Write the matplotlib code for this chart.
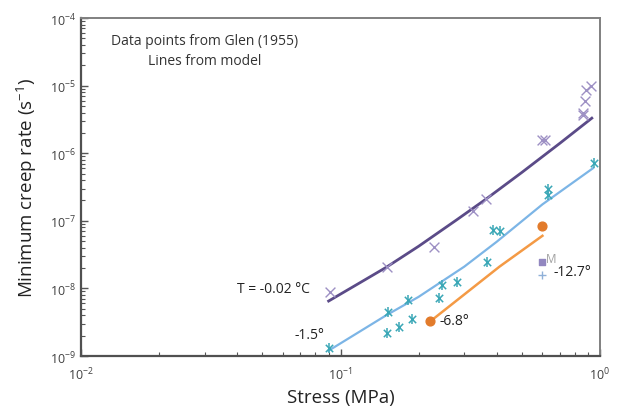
import matplotlib
matplotlib.use("Agg")
import matplotlib.pyplot as plt
from matplotlib.ticker import FixedLocator, NullFormatter, LogFormatterSciNotation

plt.rcParams['font.family'] = ['Open Sans', 'DejaVu Sans']
plt.rcParams['mathtext.default'] = 'regular'

# ---- data ----
# Glen (1955) data, T = -0.02 C
stress_002 = [0.091, 0.151, 0.229, 0.325, 0.364, 0.600, 0.612, 0.859, 0.862, 0.875, 0.885, 0.924]
rate_002 = [8.8e-9, 2.1e-8, 4.1e-8, 1.4e-7, 2.1e-7, 1.55e-6, 1.55e-6, 3.7e-6, 3.9e-6, 5.9e-6, 8.6e-6, 9.9e-6]
# Glen (1955) data, T = -1.5 C
stress_15 = [0.0903, 0.152, 0.151, 0.168, 0.182, 0.189, 0.240, 0.246, 0.281, 0.367, 0.387, 0.412, 0.631, 0.631, 0.948]
rate_15 = [1.3e-9, 4.5e-9, 2.2e-9, 2.7e-9, 6.7e-9, 3.5e-9, 7.2e-9, 1.12e-8, 1.24e-8, 2.46e-8, 7.3e-8, 7.1e-8, 2.95e-7, 2.41e-7, 7.2e-7]
# Glen (1955) data, T = -6.8 C
stress_68 = [0.221, 0.598]
rate_68 = [3.3e-9, 8.4e-8]
# Point M and T = -12.7 C
stress_M = [0.598]
rate_M = [2.46e-8]
stress_127 = [0.598]
rate_127 = [1.58e-8]

# model lines
line_x_002 = [0.09, 0.12, 0.15, 0.2, 0.28, 0.364, 0.5, 0.7, 0.93]
line_y_002 = [6.5e-9, 1.24e-8, 2.05e-8, 4.2e-8, 1.03e-7, 2.1e-7, 5.2e-7, 1.4e-6, 3.3e-6]
line_x_15 = [0.09, 0.15, 0.2, 0.3, 0.4, 0.6, 0.94]
line_y_15 = [1.2e-9, 4.0e-9, 7.5e-9, 2.1e-8, 4.9e-8, 1.75e-7, 6.0e-7]
line_x_68 = [0.225, 0.41, 0.6]
line_y_68 = [3.4e-9, 2.1e-8, 6.0e-8]

# axis ticks
x_major = [1e-2, 1e-1, 1e0]
y_major = [1e-9, 1e-8, 1e-7, 1e-6, 1e-5, 1e-4]

# ---- figure ----
fig = plt.figure(figsize=(6.23, 4.10), dpi=100)
ax = fig.add_axes([81/623, 1-357/410, (600-81)/623, (357-19)/410])

c_purple_line = '#5b4b88'
c_purple_pts = '#9d90c4'
c_blue_line = '#7cb5e6'
c_cyan_pts = '#3aa7b6'
c_orange_line = '#f49a45'
c_orange_pts = '#e27b2b'

ax.plot(line_x_002, line_y_002, color=c_purple_line, lw=2.0, zorder=2)
ax.plot(line_x_15, line_y_15, color=c_blue_line, lw=1.6, zorder=2)
ax.plot(line_x_68, line_y_68, color=c_orange_line, lw=1.8, zorder=2)

ax.scatter(stress_002, rate_002, marker='x', s=50, linewidths=1.0, color=c_purple_pts, zorder=3)
ax.scatter(stress_15, rate_15, marker='x', s=28, linewidths=1.1, color=c_cyan_pts, zorder=3)
ax.scatter(stress_15, rate_15, marker='|', s=55, linewidths=1.1, color=c_cyan_pts, zorder=3)
ax.scatter(stress_68, rate_68, marker='o', s=40, color=c_orange_pts, zorder=3)
ax.scatter(stress_M, rate_M, marker='s', s=18, color='#9287c0', zorder=3)
ax.scatter(stress_127, rate_127, marker='+', s=40, linewidths=1.0, color='#8fb0d8', zorder=3)

ax.set_xscale('log')
ax.set_yscale('log')
ax.set_xlim(1e-2, 1)
ax.set_ylim(1e-9, 1e-4)

x_minor = [m * d for d in x_major[:-1] for m in range(2, 10)]
y_minor = [m * d for d in y_major[:-1] for m in range(2, 10)]
ax.xaxis.set_major_locator(FixedLocator(x_major))
ax.yaxis.set_major_locator(FixedLocator(y_major))
ax.xaxis.set_minor_locator(FixedLocator(x_minor))
ax.yaxis.set_minor_locator(FixedLocator(y_minor))
ax.xaxis.set_major_formatter(LogFormatterSciNotation())
ax.yaxis.set_major_formatter(LogFormatterSciNotation())
ax.xaxis.set_minor_formatter(NullFormatter())
ax.yaxis.set_minor_formatter(NullFormatter())

ax.tick_params(which='both', direction='in', top=False, right=False, colors='#555555',
               labelcolor='#404040', labelsize=9)
ax.tick_params(which='major', length=5, width=1.0)
ax.tick_params(which='minor', length=3, width=0.8)
ax.tick_params(axis='x', pad=7)

for s in ['left', 'bottom']:
    ax.spines[s].set_color('#505050')
    ax.spines[s].set_linewidth(1.6)
for s in ['top', 'right']:
    ax.spines[s].set_color('#808080')
    ax.spines[s].set_linewidth(1.4)

ax.set_xlabel('Stress (MPa)', fontsize=13.5, color='#222222', labelpad=4)
ax.set_ylabel('Minimum creep rate (s$^{-1}$)', fontsize=13.5, color='#222222', labelpad=8)

# annotations
ax.text(0.239, 0.955, 'Data points from Glen (1955)\nLines from model', transform=ax.transAxes,
        ha='center', va='top', fontsize=10, color='#333333', linespacing=1.45)
ax.text(0.076, 9.8e-9, 'T = -0.02 °C', ha='right', va='center', fontsize=10, color='#222222')
ax.text(0.087, 2.1e-9, '-1.5°', ha='right', va='center', fontsize=10, color='#222222')
ax.text(0.24, 3.3e-9, '-6.8°', ha='left', va='center', fontsize=10, color='#222222')
ax.text(0.66, 1.75e-8, '-12.7°', ha='left', va='center', fontsize=10, color='#222222')
ax.text(0.62, 2.8e-8, 'M', ha='left', va='center', fontsize=8.5, color='#a0a0a0')

fig.savefig('out.png', dpi=100)
